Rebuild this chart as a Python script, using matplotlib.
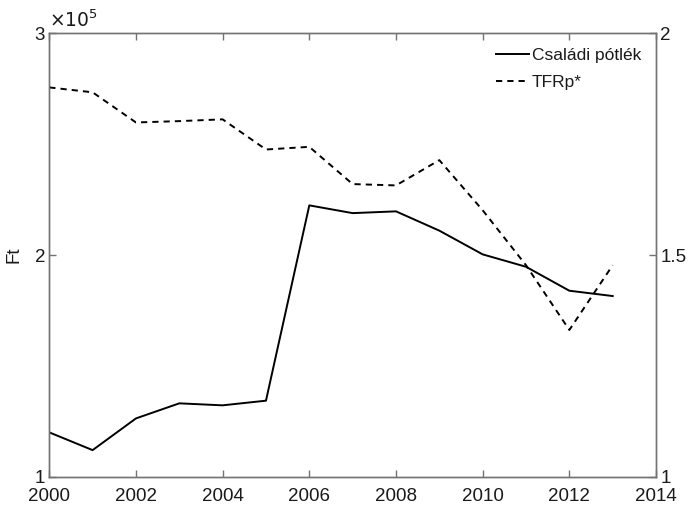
import numpy as np
import matplotlib
matplotlib.use("Agg")
from matplotlib import pyplot as plt
from matplotlib.ticker import FuncFormatter

plt.rcParams['font.family'] = ['Liberation Sans', 'DejaVu Sans']

years = [2000, 2001, 2002, 2003, 2004, 2005, 2006,
         2007, 2008, 2009, 2010, 2011, 2012, 2013]
# family allowance, Ft
csaladi_potlek = [120000, 112000, 126300, 133100, 132200, 134300, 222400,
                  218900, 219700, 211000, 200300, 194700, 183900, 181500]
# TFRp*
tfrp = [1.878, 1.867, 1.799, 1.802, 1.806, 1.738, 1.744,
        1.660, 1.657, 1.714, 1.601, 1.477, 1.331, 1.477]

xticks = [2000, 2002, 2004, 2006, 2008, 2010, 2012, 2014]
left_ticks = [1e5, 2e5, 3e5]
right_ticks = [1, 1.5, 2]

axcol = '0.45'
txtcol = '0.1'

fig = plt.figure(figsize=(6.92, 5.05), dpi=100)
ax = fig.add_axes([0.0712, 0.056, 0.8768, 0.878])
ax2 = ax.twinx()

l1, = ax.plot(years, csaladi_potlek, '-', color='k', lw=1.4, label='Családi pótlék')
l2, = ax2.plot(years, tfrp, '--', color='k', lw=1.4, dashes=(3.2, 2.6), label='TFRp*')

ax.set_xlim(2000, 2014)
ax.set_ylim(1e5, 3e5)
ax2.set_ylim(1, 2)
ax.set_xticks(xticks)
ax.set_yticks(left_ticks)
ax.yaxis.set_major_formatter(FuncFormatter(lambda v, p: '%g' % (v / 1e5)))
ax2.set_yticks(right_ticks)
ax2.yaxis.set_major_formatter(FuncFormatter(lambda v, p: '%g' % v))

for a in (ax, ax2):
    for s in a.spines.values():
        s.set_color(axcol)
        s.set_linewidth(1.0)
    a.tick_params(direction='in', length=5, width=1.0, color=axcol,
                  labelsize=13.5, labelcolor=txtcol)
ax.tick_params(axis='x', top=True, pad=8)
ax.tick_params(axis='y', left=True, pad=3)
ax2.tick_params(axis='y', right=True, pad=3)

ax.set_ylabel('Ft', fontsize=13.5, color=txtcol, labelpad=9)
ax.text(0.0, 1.005, r'$\times10^{5}$', transform=ax.transAxes, fontsize=13.5,
        color=txtcol, ha='left', va='bottom')

leg = ax.legend(handles=[l1, l2], loc='upper right', frameon=False,
                fontsize=12.5, handlelength=1.9, handletextpad=0.15,
                borderaxespad=0.45, labelspacing=0.65)
for t in leg.get_texts():
    t.set_color(txtcol)

fig.savefig('out.png', dpi=100)
